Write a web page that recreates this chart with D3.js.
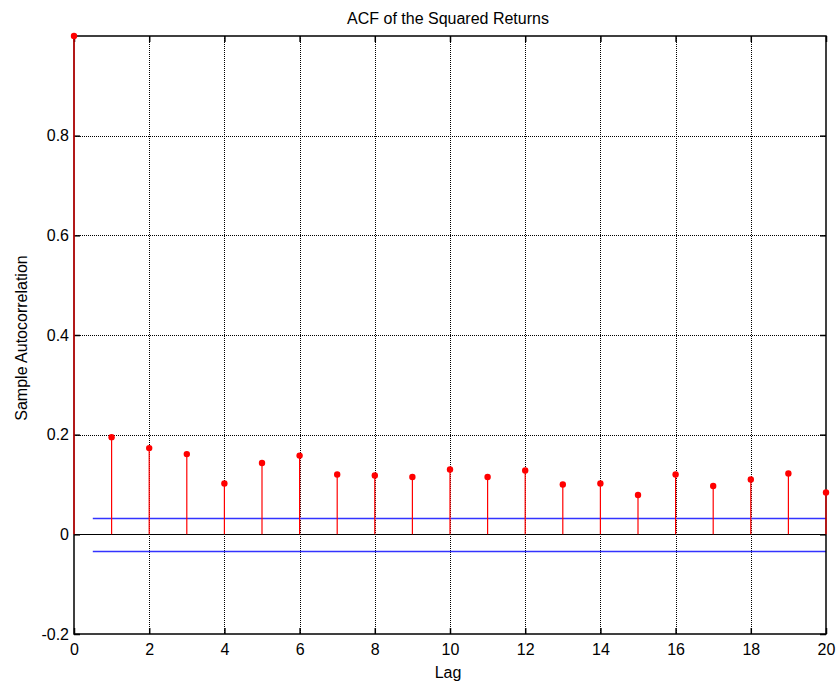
<!DOCTYPE html>
<html><head><meta charset="utf-8">
<script src="https://cdn.jsdelivr.net/npm/d3@7"></script>
<style>body{margin:0;background:#fff}svg{display:block}text{font-family:"Liberation Sans",Arial,sans-serif;fill:#000}</style>
</head><body><svg id="c" width="837" height="682"></svg>
<script>
const lags = [0,1,2,3,4,5,6,7,8,9,10,11,12,13,14,15,16,17,18,19,20];
const acf = [1.0,0.195,0.173,0.161,0.102,0.143,0.158,0.120,0.118,0.115,0.130,0.115,0.128,0.100,0.102,0.079,0.120,0.097,0.110,0.122,0.084];
const bound = 0.0331;
const xTicks = [0,2,4,6,8,10,12,14,16,18,20];
const yTicks = [-0.2,0,0.2,0.4,0.6,0.8];
const yTickLabels = ["-0.2","0","0.2","0.4","0.6","0.8"];
const title = "ACF of the Squared Returns";
const xLabel = "Lag";
const yLabel = "Sample Autocorrelation";

const svg = d3.select("#c");
const L=74, R=826, T=36, B=634;
const x = d3.scaleLinear().domain([0,20]).range([L,R]);
const y = d3.scaleLinear().domain([-0.2,1]).range([B,T]);

// grid
const g = svg.append("g");
g.selectAll(".gx").data(xTicks.filter(d=>d>0&&d<20)).join("line")
  .attr("x1",d=>Math.round(x(d))+0.5).attr("x2",d=>Math.round(x(d))+0.5).attr("y1",T).attr("y2",B)
  .attr("stroke","#000").attr("stroke-width",1).attr("stroke-dasharray","1,1");
g.selectAll(".gy").data(yTicks.filter(d=>d>-0.2)).join("line")
  .attr("y1",d=>Math.round(y(d))+0.5).attr("y2",d=>Math.round(y(d))+0.5).attr("x1",L).attr("x2",R)
  .attr("stroke","#000").attr("stroke-width",1).attr("stroke-dasharray","1,1");

// zero line
svg.append("line").attr("x1",L).attr("x2",R).attr("y1",Math.round(y(0))+0.5).attr("y2",Math.round(y(0))+0.5)
  .attr("stroke","#000").attr("stroke-width",1.2);

// bounds
[bound,-bound].forEach(b=>{
  svg.append("line").attr("x1",x(0.5)).attr("x2",R).attr("y1",Math.round(y(b))+0.5).attr("y2",Math.round(y(b))+0.5)
   .attr("stroke","#3333ff").attr("stroke-width",1.3);
});

// axes box with inward ticks
const xa = d3.axisBottom(x).tickValues(xTicks).tickSize(-6).tickPadding(10).tickFormat(d3.format("d"));
const ya = d3.axisLeft(y).tickValues(yTicks).tickSize(-6).tickPadding(5).tickFormat((d,i)=>yTickLabels[i]);
const ax = svg.append("g").attr("transform",`translate(0,${B})`).call(xa);
const ay = svg.append("g").attr("transform",`translate(${L},0)`).call(ya);
const axt = svg.append("g").attr("transform",`translate(0,${T})`).call(d3.axisTop(x).tickValues(xTicks).tickSize(-6).tickFormat(""));
const ayr = svg.append("g").attr("transform",`translate(${R},0)`).call(d3.axisRight(y).tickValues(yTicks).tickSize(-6).tickFormat(""));
[ax,ay,axt,ayr].forEach(a=>{
  a.select(".domain").remove();
  a.selectAll("line").attr("stroke","#000").attr("stroke-width",1.5);
  a.selectAll("text").style("font-size","16px").attr("fill","#000");
});
svg.append("rect").attr("x",L).attr("y",T).attr("width",R-L).attr("height",B-T)
  .attr("fill","none").attr("stroke","#000").attr("stroke-width",1.5);

// stems
const data = lags.map((l,i)=>({l,v:acf[i]}));
svg.selectAll(".stem").data(data).join("line")
  .attr("x1",d=>x(d.l)).attr("x2",d=>x(d.l)).attr("y1",y(0)).attr("y2",d=>y(d.v))
  .attr("stroke","#ff0000").attr("stroke-width",1.2);
svg.selectAll(".dot").data(data).join("circle")
  .attr("cx",d=>x(d.l)).attr("cy",d=>y(d.v)).attr("r",3.2).attr("fill","#ff0000");

// labels
svg.append("text").attr("x",(L+R)/2-2).attr("y",24).attr("text-anchor","middle").style("font-size","16px").text(title);
svg.append("text").attr("x",(L+R)/2-2).attr("y",678).attr("text-anchor","middle").style("font-size","16px").text(xLabel);
svg.append("text").attr("transform",`translate(27,${(T+B)/2+3}) rotate(-90)`).attr("text-anchor","middle").style("font-size","16px").text(yLabel);
</script></body></html>
